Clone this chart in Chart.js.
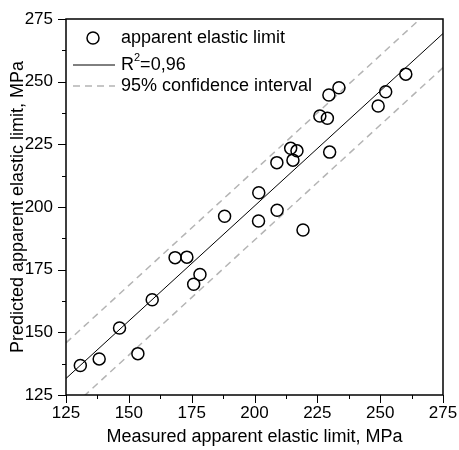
<!DOCTYPE html>
<html>
<head>
<meta charset="utf-8">
<script src="https://cdn.jsdelivr.net/npm/chart.js@4"></script>
<style>
  html, body { margin: 0; padding: 0; background: #fff; }
  #wrap { width: 459px; height: 450px; }
</style>
</head>
<body>
<div id="wrap"><canvas id="chart" width="459" height="450"></canvas></div>
<script>
// measured vs predicted values
const measured = [130.7, 138.2, 146.3, 153.6, 159.3, 168.4, 173.1, 175.8, 178.3, 188.1,
                  201.6, 201.7, 209.0, 219.3, 208.9, 215.3, 214.4, 216.9, 229.9, 226.0,
                  229.0, 229.6, 233.6, 249.2, 252.2, 260.2];
const predicted = [136.8, 139.4, 151.7, 141.5, 163.0, 179.8, 180.0, 169.2, 173.1, 196.3,
                   194.4, 205.7, 198.7, 190.8, 217.7, 218.7, 223.4, 222.4, 221.9, 236.3,
                   235.4, 244.7, 247.6, 240.3, 246.0, 253.0];

// regression line and confidence band end points
const lineX = [125, 275];
const fitY = [131.6, 269.2];
const upperY = [145.8, 283.4];
const lowerY = [118.0, 255.6];

const axisMin = 125, axisMax = 275;
const majorTicks = [125, 150, 175, 200, 225, 250, 275];

const font = "'Liberation Sans', Arial, sans-serif";

const toPoints = (xs, ys) => xs.map((x, i) => ({ x: x, y: ys[i] }));

// frame, ticks and the legend box
const framePlugin = {
  id: 'frame',
  afterDraw(chart) {
    const { ctx, chartArea: a, scales } = chart;
    ctx.save();
    ctx.strokeStyle = '#000';
    ctx.lineWidth = 1.5;
    ctx.strokeRect(a.left, a.top, a.right - a.left, a.bottom - a.top);

    ctx.lineWidth = 1;
    for (let v = axisMin; v <= axisMax; v += 12.5) {
      const len = (v - axisMin) % 25 === 0 ? 8 : 4;
      const px = Math.round(scales.x.getPixelForValue(v)) + 0.5;
      const py = Math.round(scales.y.getPixelForValue(v)) + 0.5;
      ctx.beginPath();
      ctx.moveTo(px, a.bottom);
      ctx.lineTo(px, a.bottom + len);
      ctx.moveTo(a.left, py);
      ctx.lineTo(a.left - len, py);
      ctx.stroke();
    }

    // legend
    ctx.font = '18px ' + font;
    ctx.fillStyle = '#000';
    ctx.textBaseline = 'middle';
    ctx.lineWidth = 1.5;
    ctx.beginPath();
    ctx.arc(93, 38, 6, 0, Math.PI * 2);
    ctx.stroke();
    ctx.fillText('apparent elastic limit', 121, 38);

    ctx.lineWidth = 1;
    ctx.beginPath();
    ctx.moveTo(73, 65);
    ctx.lineTo(115, 65);
    ctx.stroke();
    ctx.fillText('R', 121, 65);
    const rw = ctx.measureText('R').width;
    ctx.font = '11px ' + font;
    ctx.fillText('2', 121 + rw, 58);
    const sw = ctx.measureText('2').width;
    ctx.font = '18px ' + font;
    ctx.fillText('=0,96', 121 + rw + sw, 65);

    ctx.strokeStyle = '#b4b4b4';
    ctx.lineWidth = 1.5;
    ctx.setLineDash([7, 5]);
    ctx.beginPath();
    ctx.moveTo(73, 86);
    ctx.lineTo(115, 86);
    ctx.stroke();
    ctx.setLineDash([]);
    ctx.fillText('95% confidence interval', 121, 86);
    ctx.restore();
  }
};

new Chart(document.getElementById('chart'), {
  type: 'scatter',
  data: {
    datasets: [
      {
        label: 'apparent elastic limit',
        data: toPoints(measured, predicted),
        pointStyle: 'circle',
        pointRadius: 6,
        pointBorderWidth: 1.5,
        borderColor: '#000',
        backgroundColor: 'rgba(255,255,255,0)'
      },
      {
        label: 'R²=0,96',
        type: 'line',
        data: toPoints(lineX, fitY),
        borderColor: '#000',
        borderWidth: 1,
        pointRadius: 0
      },
      {
        label: '95% confidence interval',
        type: 'line',
        data: toPoints(lineX, upperY),
        borderColor: '#b4b4b4',
        borderWidth: 1.5,
        borderDash: [7, 5],
        pointRadius: 0
      },
      {
        label: 'lower',
        type: 'line',
        data: toPoints(lineX, lowerY),
        borderColor: '#b4b4b4',
        borderWidth: 1.5,
        borderDash: [7, 5],
        pointRadius: 0
      }
    ]
  },
  options: {
    responsive: false,
    animation: false,
    layout: { padding: { top: 19, right: 16, left: 0, bottom: 0 } },
    plugins: { legend: { display: false }, tooltip: { enabled: false } },
    scales: {
      x: {
        type: 'linear',
        min: axisMin,
        max: axisMax,
        afterBuildTicks: s => { s.ticks = majorTicks.map(v => ({ value: v })); },
        grid: { display: false, drawTicks: false },
        border: { display: false },
        ticks: { color: '#000', font: { family: font, size: 17 }, padding: 8, maxRotation: 0 },
        title: { display: true, text: 'Measured apparent elastic limit, MPa', color: '#000',
                 font: { family: font, size: 18 }, padding: { top: 0, bottom: 2 } },
        afterFit: s => { s.height = 55; s.paddingLeft = 0; s.paddingRight = 0; }
      },
      y: {
        type: 'linear',
        min: axisMin,
        max: axisMax,
        afterBuildTicks: s => { s.ticks = majorTicks.map(v => ({ value: v })); },
        grid: { display: false, drawTicks: false },
        border: { display: false },
        ticks: { color: '#000', font: { family: font, size: 17 }, padding: 13 },
        title: { display: true, text: 'Predicted apparent elastic limit, MPa', color: '#000',
                 font: { family: font, size: 18 }, padding: { top: 7, bottom: 0 } },
        afterFit: s => { s.width = 66; s.paddingTop = 0; s.paddingBottom = 0; }
      }
    }
  },
  plugins: [framePlugin]
});
</script>
</body>
</html>
